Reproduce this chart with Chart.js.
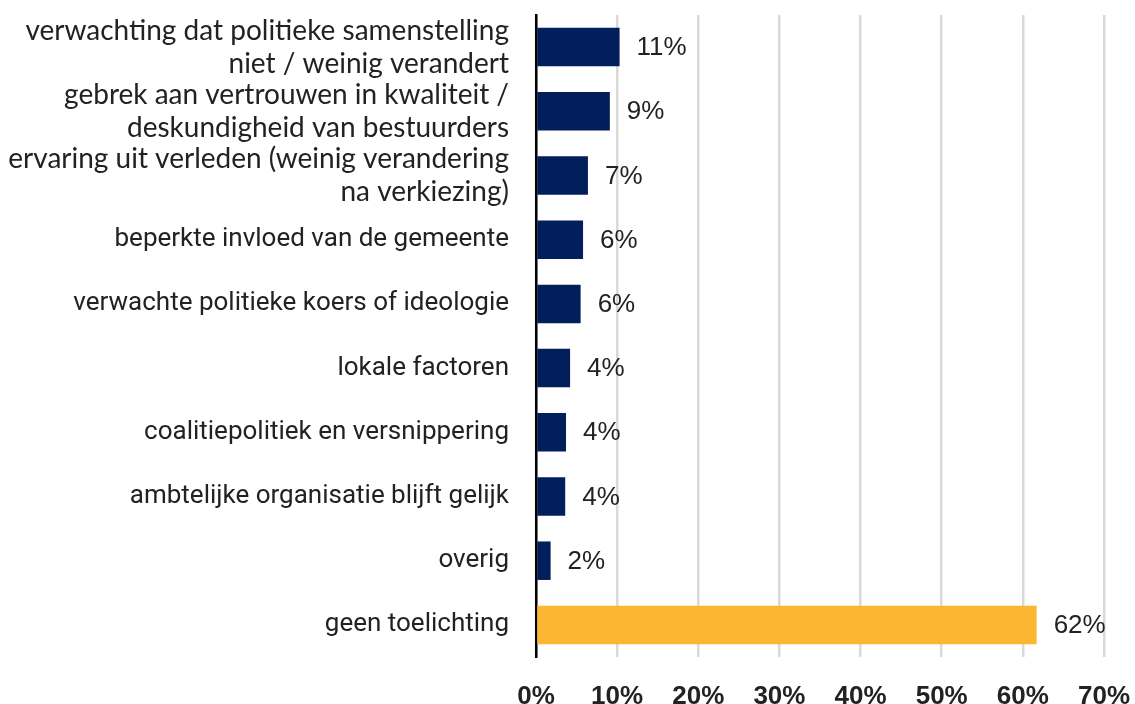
<!DOCTYPE html>
<html>
<head>
<meta charset="utf-8">
<script src="https://cdn.jsdelivr.net/npm/chart.js@4"></script>
<style>
  html, body { margin: 0; padding: 0; background: #fff; }
  #wrap { width: 1135px; height: 704px; }
</style>
</head>
<body>
<div id="wrap"><canvas id="bars"></canvas></div>
<script>
// categories (top to bottom)
const categories = [
  ['verwachting dat politieke samenstelling', 'niet / weinig verandert'],
  ['gebrek aan vertrouwen in kwaliteit /', 'deskundigheid van bestuurders'],
  ['ervaring uit verleden (weinig verandering', 'na verkiezing)'],
  'beperkte invloed van de gemeente',
  'verwachte politieke koers of ideologie',
  'lokale factoren',
  'coalitiepolitiek en versnippering',
  'ambtelijke organisatie blijft gelijk',
  'overig',
  'geen toelichting'
];
// bar lengths (percent)
const shares = [10.3, 9.1, 6.4, 5.8, 5.5, 4.2, 3.7, 3.6, 1.8, 61.7];
// printed labels next to the bars
const shareLabels = ['11%', '9%', '7%', '6%', '6%', '4%', '4%', '4%', '2%', '62%'];
const xTicks = [0, 10, 20, 30, 40, 50, 60, 70];

const barColors = shares.map((v, i) => i === shares.length - 1 ? '#fbb732' : '#031f5b');

// simple value labels at the end of each bar
const endLabels = {
  id: 'endLabels',
  afterDatasetsDraw(chart) {
    const ctx = chart.ctx;
    const meta = chart.getDatasetMeta(0);
    ctx.save();
    ctx.font = '26px "Liberation Sans", Arial, sans-serif';
    ctx.fillStyle = '#222';
    ctx.textAlign = 'left';
    ctx.textBaseline = 'middle';
    meta.data.forEach((bar, i) => {
      ctx.fillText(shareLabels[i], bar.x + 17, bar.y + 1);
    });
    ctx.restore();
  }
};

new Chart(document.getElementById('bars'), {
  type: 'bar',
  data: {
    labels: categories,
    datasets: [{
      data: shares,
      backgroundColor: barColors,
      borderWidth: 0,
      categoryPercentage: 0.6,
      barPercentage: 1
    }]
  },
  options: {
    indexAxis: 'y',
    responsive: true,
    maintainAspectRatio: false,
    animation: false,
    layout: { padding: { top: 15, right: 31, left: 0, bottom: 0 } },
    plugins: {
      legend: { display: false },
      tooltip: { enabled: false }
    },
    scales: {
      x: {
        min: 0,
        max: 70,
        afterBuildTicks: s => { s.ticks = xTicks.map(v => ({ value: v })); },
        afterFit: s => { s.height = 47; s.paddingLeft = 0; s.paddingRight = 0; },
        grid: { color: '#d9d9d9', lineWidth: 2.5, drawTicks: false },
        border: { display: false },
        ticks: {
          padding: 24,
          color: '#222',
          maxRotation: 0,
          font: { family: '"Liberation Sans", Arial, sans-serif', size: 26, weight: 'bold' },
          callback: v => v + '%'
        }
      },
      y: {
        afterFit: s => { s.width = 536; s.paddingTop = 0; s.paddingBottom = 0; },
        grid: { display: false, drawTicks: false },
        border: { display: true, color: '#000', width: 2.5 },
        ticks: {
          autoSkip: false,
          padding: 27,
          color: '#222',
          // the two-line labels at the top are set in a wider face in the original
          font: c => c.index < 3
            ? { family: 'Lato, "Open Sans", sans-serif', size: 28, lineHeight: 1.18 }
            : { family: 'Roboto, "Open Sans", sans-serif', size: 26, lineHeight: 1.2 }
        }
      }
    }
  },
  plugins: [endLabels]
});
</script>
</body>
</html>
